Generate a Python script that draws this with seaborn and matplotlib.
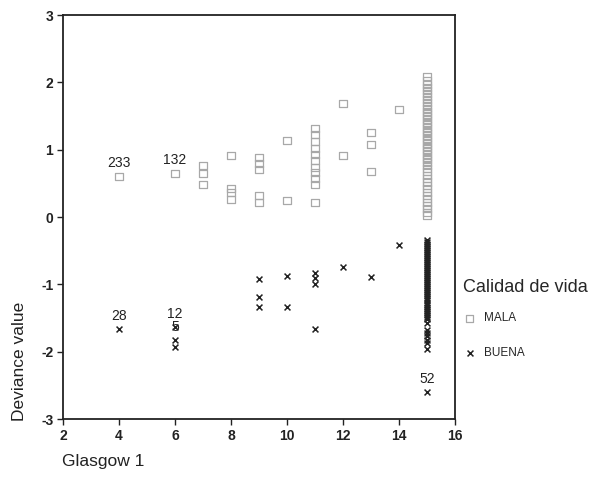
import matplotlib
matplotlib.use("Agg")
import matplotlib.pyplot as plt
import seaborn as sns
import pandas as pd

sns.set_style("white")
plt.rcParams["font.family"] = ["Liberation Sans", "DejaVu Sans"]
plt.rcParams["axes.unicode_minus"] = False

# Glasgow score (x) and deviance residual (y) for each patient, by quality of life
mala_glasgow = [4, 6, 7, 7, 7, 8, 8, 8, 8, 9, 9, 9, 9, 9, 10, 10,
                11, 11, 11, 11, 11, 11, 11, 11, 11, 11, 11,
                12, 12, 13, 13, 13, 14] + [15] * 47
mala_dev = [0.60, 0.65, 0.76, 0.64, 0.48, 0.92, 0.43, 0.36, 0.26,
            0.88, 0.80, 0.70, 0.32, 0.21, 1.14, 0.25,
            1.32, 1.22, 1.12, 1.02, 0.93, 0.84, 0.74, 0.66, 0.57, 0.48, 0.22,
            1.69, 0.92, 1.26, 1.08, 0.67, 1.59,
            2.08, 2.02, 1.97, 1.92, 1.88, 1.83, 1.79, 1.74, 1.70, 1.66,
            1.61, 1.57, 1.53, 1.49, 1.45, 1.41, 1.38, 1.33, 1.29, 1.25,
            1.21, 1.17, 1.13, 1.09, 1.05, 1.01, 0.97, 0.93, 0.89, 0.85,
            0.81, 0.76, 0.72, 0.67, 0.62, 0.57, 0.52, 0.47, 0.42, 0.37,
            0.32, 0.27, 0.22, 0.17, 0.12, 0.07, 0.03]

buena_glasgow = [4, 6, 6, 6, 9, 9, 9, 10, 10, 11, 11, 11, 11,
                 12, 13, 14] + [15] * 48
buena_dev = [-1.67, -1.63, -1.83, -1.93, -0.92, -1.19, -1.34, -0.88, -1.34,
             -0.83, -0.91, -1.00, -1.67, -0.74, -0.89, -0.42,
             -0.34, -0.37, -0.40, -0.43, -0.46, -0.49, -0.52, -0.55, -0.58,
             -0.61, -0.64, -0.67, -0.70, -0.73, -0.76, -0.79, -0.82, -0.85,
             -0.88, -0.91, -0.94, -0.97, -1.00, -1.03, -1.06, -1.09, -1.12,
             -1.15, -1.18, -1.21, -1.24, -1.27, -1.30, -1.33, -1.36, -1.39,
             -1.42, -1.45, -1.48, -1.52, -1.58, -1.68, -1.72, -1.77, -1.82,
             -1.87, -1.96, -2.60]

# Case numbers shown next to selected points
case_x = [4, 6, 4, 6, 6, 15]
case_y = [0.60, 0.65, -1.67, -1.63, -1.83, -2.60]
case_ids = ["233", "132", "28", "12", "5", "52"]

categories = ["MALA", "BUENA"]

mala = pd.DataFrame({"glasgow": mala_glasgow, "deviance": mala_dev})
buena = pd.DataFrame({"glasgow": buena_glasgow, "deviance": buena_dev})

fig = plt.figure(figsize=(5.95, 4.9), dpi=100)
ax = fig.add_axes([63 / 595, 1 - 419 / 490, (455 - 63) / 595, (419 - 15) / 490])

sns.scatterplot(data=mala, x="glasgow", y="deviance", ax=ax, marker="s",
                s=26, facecolor="none", edgecolor="#a8a8a8", linewidth=0.9,
                label=categories[0])
sns.scatterplot(data=buena, x="glasgow", y="deviance", ax=ax, marker="x",
                s=18, color="#222222", linewidth=1.1, label=categories[1])

for cx, cy, cid in zip(case_x, case_y, case_ids):
    ax.annotate(cid, (cx, cy), xytext=(0, 4.5), textcoords="offset points",
                ha="center", va="bottom", fontsize=10, color="#222222")

ax.set_xlim(2, 16)
ax.set_ylim(-3, 3)
ax.set_xticks(range(2, 17, 2))
ax.set_yticks(range(-3, 4))
ax.set_xlabel("")
ax.set_ylabel("")
ax.tick_params(axis="both", which="both", direction="out", length=4,
               width=1.0, labelsize=10, colors="#222222", pad=3,
               left=True, bottom=True, top=False, right=False)
for lab in ax.get_xticklabels() + ax.get_yticklabels():
    lab.set_fontweight("bold")
for sp in ax.spines.values():
    sp.set_color("#222222")
    sp.set_linewidth(1.3)

fig.text(62 / 595, 1 - 461 / 490, "Glasgow 1", ha="left", va="center",
         fontsize=12.5, color="#222222")
fig.text(20 / 595, 1 - 421 / 490, "Deviance value", ha="center", va="bottom",
         rotation=90, fontsize=12.5, color="#222222")

leg = ax.legend(title="Calidad de vida", loc="upper left",
                bbox_to_anchor=(458 / 595, 1 - 274 / 490),
                bbox_transform=fig.transFigure, frameon=False,
                fontsize=8.5, title_fontsize=13, handletextpad=0.6,
                labelspacing=1.9, borderaxespad=0, handlelength=1.2)
leg._legend_box.align = "left"
leg._legend_box.sep = 12

fig.savefig("out.png", dpi=100)
